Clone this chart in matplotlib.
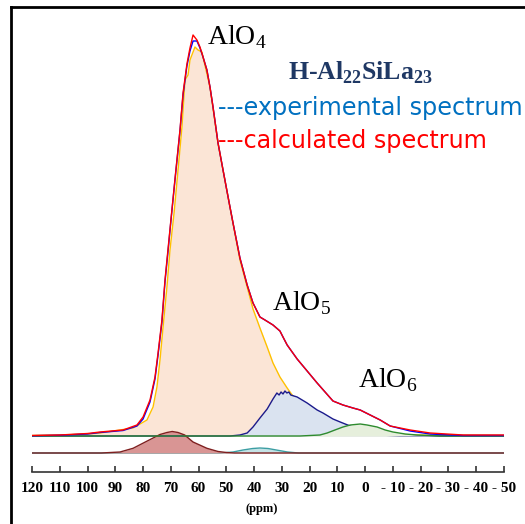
import numpy as np
import matplotlib
matplotlib.use('Agg')
import matplotlib.pyplot as plt
from matplotlib.lines import Line2D

plt.rcParams['mathtext.fontset'] = 'custom'
plt.rcParams['mathtext.rm'] = 'Liberation Serif'
plt.rcParams['mathtext.bf'] = 'Liberation Serif:bold'

# --- data (ppm, intensity in a.u.) ---
calc_ppm = [120, 110, 100, 95.5, 87.2, 82.2, 80.0, 77.5, 75.7, 74.6, 73.2, 72.1, 71.0, 69.9,
            68.5, 66.7, 65.6, 64.2, 63.1, 62.0, 60.6, 59.5, 58.4, 57.0, 55.9, 54.8, 53.0,
            51.2, 48.7, 47.6, 45.1, 42.5, 40.4, 37.9, 36.1, 33.2, 30.7, 29.6, 28.1, 24.5,
            17.3, 11.6, 8.0, 4.4, 1.8, -1.8, -5.4, -9.0, -16.2, -23.4, -35.3, -50]
calc_int = [0.5, 1, 2.5, 4, 6, 11, 19, 36, 59, 83, 116, 156, 187, 218,
            257, 306, 343, 372, 388, 401, 396, 389, 379, 366, 349, 329, 293,
            266, 229, 213, 178, 151, 133, 119, 116, 111, 105, 99, 91, 77,
            53, 35, 31, 28, 26, 21, 16, 10, 6, 3, 1, 1]
exp_int = [0.3, 0.8, 2, 3.5, 5.5, 10, 17, 34, 57, 81, 114, 154, 185, 217,
           256, 305, 341, 370, 385, 395, 395, 388, 379, 366, 349, 329, 293,
           266, 229, 213, 178, 151, 133, 119, 116, 111, 105, 99, 91, 77,
           53, 35, 31, 28, 26, 21, 16, 10, 5, 2, 0.5, 0.5]

alo4_ppm = [120, 110, 100, 95.5, 83.6, 78.6, 76.4, 75.0, 73.9, 72.8, 71.4, 70.3, 68.8,
            67.4, 66.0, 64.9, 63.8, 63.1, 61.3, 60.2, 58.8, 58.4, 55.9, 53.0, 51.2, 48.7,
            45.1, 42.5, 40.4, 37.9, 35.3, 33.2, 30.7, 28.1, 26.3, 23.5, 19.9, 16.3,
            10.9, 5.4, -1.8, -12.6, -50]
alo4_int = [0.5, 1, 2, 3, 8, 16, 29, 49, 76, 109, 149, 186, 224,
            266, 309, 356, 361, 376, 389, 386, 384, 379, 349, 293, 266, 229,
            176, 149, 127, 108, 89, 73, 59, 48, 41, 32, 22, 15,
            8, 4, 2, 1, 0.5]

alo5_ppm = [120, 50, 48.7, 45.1, 42.5, 40.4, 37.9, 35.3, 33.2, 32.5, 31.8, 31.0, 30.3,
            29.6, 28.9, 28.2, 27.5, 26.8, 24.5, 20.9, 17.3, 15.2, 11.6, 9.0, 5.4,
            1.8, -1.8, -5.4, -12.6, -50]
alo5_int = [0, 0, 0, 1, 3, 9, 18, 27, 37, 40, 43, 41, 44,
            42, 45, 43, 44, 41, 39, 33, 26, 23, 17, 14, 10,
            6, 3, 1, 0, 0]

alo6_ppm = [120, 23.5, 16.3, 13.7, 10.9, 8.0, 5.4, 1.8, -0.7, -4.3, -7.2, -10.0, -14.4,
            -18.7, -27, -50]
alo6_int = [0, 0, 1, 3, 6, 9, 11, 12, 11, 9, 6, 4, 2, 1, 0, 0]

# lower trace (offset below the main spectra)
offset = -17
brown_ppm = [120, 95, 88.3, 83.6, 77.5, 73.9, 71.4, 69.5, 67.4, 65.0, 62.0, 57.0, 53.0, 50.0, 47.0, -50]
brown_int = [0, 0, 1, 4.7, 13.4, 18.5, 20.5, 21.5, 20.5, 18, 11, 4.7, 1.5, 0.5, 0, 0]
teal_ppm = [120, 52, 47.6, 44, 40.5, 37.9, 35, 32, 28, 24, -50]
teal_int = [0, 0, 1, 3, 4.5, 5, 4.5, 3, 1, 0, 0]

tick_pos = [120, 110, 100, 90, 80, 70, 60, 50, 40, 30, 20, 10, 0, -10, -20, -30, -40, -50]
tick_lab = ['120', '110', '100', '90', '80', '70', '60', '50', '40', '30', '20', '10', '0',
            '- 10', '- 20', '- 30', '- 40', '- 50']

W, H = 525, 524
fig = plt.figure(figsize=(W / 100, H / 100), dpi=100)
ax = fig.add_axes([32 / W, (H - 472) / H, 472 / W, 452 / H])
ax.set_xlim(120, -50)
ax.set_ylim(-36, 416)

lw = 1.0
# AlO4
ax.fill_between(alo4_ppm, 0, alo4_int, color='#FBE5D6', lw=0, zorder=1)
ax.plot(alo4_ppm, alo4_int, color='#FFC000', lw=lw, zorder=2)
# AlO5
ax.fill_between(alo5_ppm, 0, alo5_int, color='#DAE3F0', lw=0, zorder=3)
ax.plot(alo5_ppm, alo5_int, color='#1A1A8C', lw=lw, zorder=4)
# AlO6
ax.fill_between(alo6_ppm, 0, alo6_int, color='#E6EFDC', lw=0, zorder=5)
ax.plot(alo6_ppm, alo6_int, color='#2E8B2E', lw=lw, zorder=6)
# experimental / calculated
ax.plot(calc_ppm, exp_int, color='#0000FF', lw=lw, zorder=7)
ax.plot(calc_ppm, calc_int, color='#FF0000', lw=lw, zorder=8)

# lower trace
b = np.array(brown_int) + offset
t = np.array(teal_int) + offset
ax.fill_between(teal_ppm, offset, t, color='#C5E3E6', lw=0, zorder=1)
ax.plot(teal_ppm, t, color='#3C9EA3', lw=lw, zorder=2)
ax.fill_between(brown_ppm, offset, b, color='#D99594', lw=0, zorder=3)
ax.plot(brown_ppm, b, color='#7F1F1F', lw=lw, zorder=4)

# axes styling
for s in ['left', 'right', 'top']:
    ax.spines[s].set_visible(False)
ax.spines['bottom'].set_color('#333333')
ax.spines['bottom'].set_linewidth(1.2)
ax.set_yticks([])
ax.set_xticks(tick_pos)
ax.set_xticklabels(tick_lab, fontfamily='Liberation Serif', fontweight='bold', fontsize=11)
ax.tick_params(axis='x', direction='in', length=4, width=1.2, color='#333333', pad=7.5)
ax.set_xlabel('(ppm)', fontfamily='Liberation Serif', fontweight='bold', fontsize=9)
ax.xaxis.set_label_coords(0.487, -0.068)

# labels
lab_kw = dict(fontfamily='Liberation Serif', fontsize=20, va='baseline', ha='left', color='black')
ax.text(56.8, 392, 'AlO$_4$', **lab_kw)
ax.text(33.5, 126, 'AlO$_5$', **lab_kw)
ax.text(2.6, 49, 'AlO$_6$', **lab_kw)

ax.text(1.8, 356, r'H-Al$_{\mathbf{22}}$SiLa$_{\mathbf{23}}$', fontfamily='Liberation Serif',
        fontweight='bold', fontsize=18.5, color='#1F3864', ha='center', va='baseline')
ax.text(53.0, 321, '---experimental spectrum', fontfamily='DejaVu Sans', fontsize=17.2,
        color='#0070C0', ha='left', va='baseline', clip_on=False)
ax.text(53.0, 288, '---calculated spectrum', fontfamily='DejaVu Sans', fontsize=17.2,
        color='#FF0000', ha='left', va='baseline', clip_on=False)

# frame
fx = 11 / W
fy = 1 - 7 / H
fig.add_artist(Line2D([fx, fx], [0, fy], color='black', lw=2))
fig.add_artist(Line2D([fx, 1], [fy, fy], color='black', lw=2))

fig.savefig('out.png', dpi=100)
